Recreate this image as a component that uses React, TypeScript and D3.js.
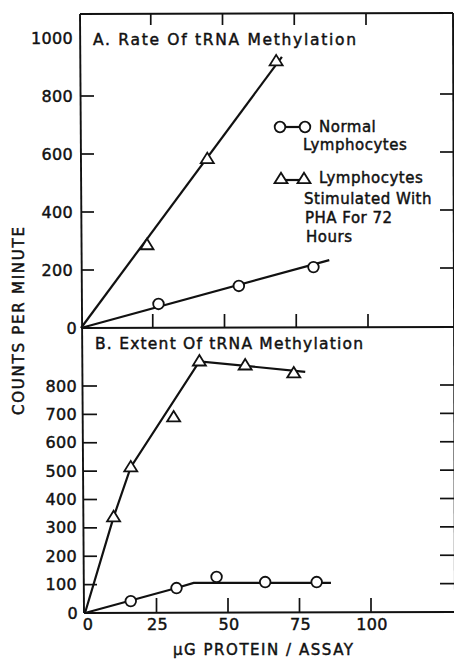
import React from "react";
import * as d3 from "d3";

// ---------- data ----------
const xTickValues = [0, 25, 50, 75, 100];
const xInnerTicks = [25, 50, 75, 100];
const yTicksA = [0, 200, 400, 600, 800, 1000];
const yInnerTicksA = [200, 400, 600, 800];
const yTicksB = [0, 100, 200, 300, 400, 500, 600, 700, 800];
const yInnerTicksB = [100, 200, 300, 400, 500, 600, 700, 800];

// Panel A: rate of tRNA methylation
const rateNormalX = [27, 55, 81];
const rateNormalY = [83, 145, 210];
const rateNormalFitX = [0, 86.5];
const rateNormalFitY = [0, 234];
const rateStimX = [23, 44, 68];
const rateStimY = [286, 583, 920];
const rateStimFitX = [0, 70];
const rateStimFitY = [0, 935];

// Panel B: extent of tRNA methylation
const extentNormalX = [16, 32, 46, 63, 81];
const extentNormalY = [42, 88, 127, 109, 109];
const extentNormalFitX = [0, 32, 38, 86];
const extentNormalFitY = [0, 88, 106, 106];
const extentStimX = [10, 16, 31, 40, 56, 73];
const extentStimY = [338, 514, 690, 887, 873, 845];
const extentStimFitX = [0, 10, 16, 40, 77];
const extentStimFitY = [0, 338, 514, 887, 850];

const legendLines1 = ["Normal", "Lymphocytes"];
const legendLines2 = ["Lymphocytes", "Stimulated With", "PHA For 72", "Hours"];

const FONT = "'DejaVu Sans', Verdana, sans-serif";
const INK = "#111";

export default function App() {
  const W = 454, H = 661;
  const xA = d3.scaleLinear().domain([0, 100]).range([81, 368]);
  const xB = d3.scaleLinear().domain([0, 100]).range([85, 371]);
  const yA = d3.scaleLinear().domain([0, 1000]).range([328, 38]);
  const yB = d3.scaleLinear().domain([0, 800]).range([613, 386]);

  const topY = 14, midY = 328, botY = 613, rightX = 453;

  const pts = (xs: number[], ys: number[]) => xs.map((x, i) => [x, ys[i]] as [number, number]);
  const lineA = d3.line<[number, number]>().x(d => xA(d[0])).y(d => yA(d[1]));
  const lineB = d3.line<[number, number]>().x(d => xB(d[0])).y(d => yB(d[1]));

  const tri = (cx: number, cy: number, k = 1) => {
    const w = 6.5 * k, h = 10.5 * k;
    return `M${cx},${cy - h * 0.6}L${cx + w},${cy + h * 0.4}L${cx - w},${cy + h * 0.4}Z`;
  };

  const circle = (cx: number, cy: number, key: string) => (
    <circle key={key} cx={cx} cy={cy} r={5.3} fill="#fff" stroke={INK} strokeWidth={1.8} />
  );
  const triangle = (cx: number, cy: number, key: string) => (
    <path key={key} d={tri(cx, cy)} fill="#fff" stroke={INK} strokeWidth={1.8} strokeLinejoin="miter" />
  );

  const txt = { fontFamily: FONT, fill: INK, stroke: INK, strokeWidth: 0.45 } as const;

  return (
    <svg width={W} height={H} style={{ position: "absolute", left: 0, top: 0, background: "#fff" }}>
      <rect width={W} height={H} fill="#fff" />
      {/* frame */}
      <g stroke={INK} strokeWidth={1.9} fill="none">
        <path d={`M80,${topY}L${rightX},${topY - 1}`} />
        <path d={`M80,${topY}L84,${botY}`} />
        <path d={`M${rightX},${topY - 1}L${rightX + 2},${botY}`} />
        <path d={`M81,${midY}L${W},${midY - 1}`} />
        <path d={`M84,${botY}L${W},${botY - 1}`} />
      </g>

      {/* ticks */}
      <g stroke={INK} strokeWidth={1.7}>
        {xInnerTicks.map(t => (
          <line key={"tt" + t} x1={xA(t) - 2} x2={xA(t) - 2} y1={topY} y2={topY + 11} />
        ))}
        {xInnerTicks.map(t => (
          <line key={"ta" + t} x1={xA(t)} x2={xA(t)} y1={midY} y2={midY - 14} />
        ))}
        {xInnerTicks.map(t => (
          <line key={"tb" + t} x1={xB(t)} x2={xB(t)} y1={botY} y2={botY - 15} />
        ))}
        {yInnerTicksA.map(t => (
          <line key={"la" + t} x1={81} x2={94} y1={yA(t)} y2={yA(t)} />
        ))}
        {yInnerTicksA.map(t => (
          <line key={"ra" + t} x1={440} x2={rightX} y1={yA(t) - 2} y2={yA(t) - 2} />
        ))}
        {yInnerTicksB.map(t => (
          <line key={"lb" + t} x1={83} x2={97} y1={yB(t)} y2={yB(t)} />
        ))}
        {yInnerTicksB.map(t => (
          <line key={"rb" + t} x1={440} x2={W} y1={yB(t) - 1} y2={yB(t) - 1} />
        ))}
      </g>

      {/* tick labels */}
      <g {...txt} fontSize={16} textAnchor="end" dominantBaseline="central" letterSpacing={0.3}>
        {yTicksA.map(t => (
          <text key={"lya" + t} x={t === 0 ? 77 : 73} y={yA(t)}>{t}</text>
        ))}
        {yTicksB.map(t => (
          <text key={"lyb" + t} x={t === 0 ? 78 : 77} y={yB(t)}>{t}</text>
        ))}
      </g>
      <g {...txt} fontSize={16} textAnchor="middle" letterSpacing={0.3}>
        {xTickValues.map(t => (
          <text key={"lx" + t} x={xB(t) + (t === 0 ? 3 : 1)} y={630}>{t}</text>
        ))}
      </g>

      {/* axis titles */}
      <text {...txt} fontSize={15} x={263} y={655} textAnchor="middle" textLength={180} lengthAdjust="spacing">
        μG PROTEIN / ASSAY
      </text>
      <text {...txt} fontSize={15} textAnchor="middle" transform="translate(24,321) rotate(-90)" textLength={188} lengthAdjust="spacing">
        COUNTS PER MINUTE
      </text>

      {/* panel titles */}
      <text {...txt} fontSize={15.5} x={93} y={45} textLength={263} lengthAdjust="spacing">
        A. Rate Of tRNA Methylation
      </text>
      <text {...txt} fontSize={15.5} x={95} y={349} textLength={268} lengthAdjust="spacing">
        B. Extent Of tRNA Methylation
      </text>

      {/* fitted lines */}
      <g fill="none" stroke={INK} strokeWidth={2.2}>
        <path d={lineA(pts(rateStimFitX, rateStimFitY)) || ""} />
        <path d={lineA(pts(rateNormalFitX, rateNormalFitY)) || ""} />
        <path d={lineB(pts(extentStimFitX, extentStimFitY)) || ""} />
        <path d={lineB(pts(extentNormalFitX, extentNormalFitY)) || ""} />
      </g>
      {rateStimX.map((x, i) => triangle(xA(x), yA(rateStimY[i]), "ras" + i))}
      {rateNormalX.map((x, i) => circle(xA(x), yA(rateNormalY[i]), "ran" + i))}
      {extentStimX.map((x, i) => triangle(xB(x), yB(extentStimY[i]), "exs" + i))}
      {extentNormalX.map((x, i) => circle(xB(x), yB(extentNormalY[i]), "exn" + i))}

      {/* legend */}
      <g>
        <line x1={280} x2={305} y1={127} y2={127} stroke={INK} strokeWidth={2.2} />
        {circle(280, 127, "lg1")}
        {circle(305, 127, "lg2")}
        <line x1={281} x2={304} y1={180} y2={180} stroke={INK} strokeWidth={2.2} />
        {triangle(281, 179, "lg3")}
        {triangle(304, 179, "lg4")}
      </g>
      <g {...txt} fontSize={15} dominantBaseline="central" letterSpacing={0.5}>
        <text x={319} y={127}>{legendLines1[0]}</text>
        <text x={303} y={145}>{legendLines1[1]}</text>
        <text x={319} y={178}>{legendLines2[0]}</text>
        <text x={304} y={199}>{legendLines2[1]}</text>
        <text x={305} y={218}>{legendLines2[2]}</text>
        <text x={306} y={237}>{legendLines2[3]}</text>
      </g>
    </svg>
  );
}
